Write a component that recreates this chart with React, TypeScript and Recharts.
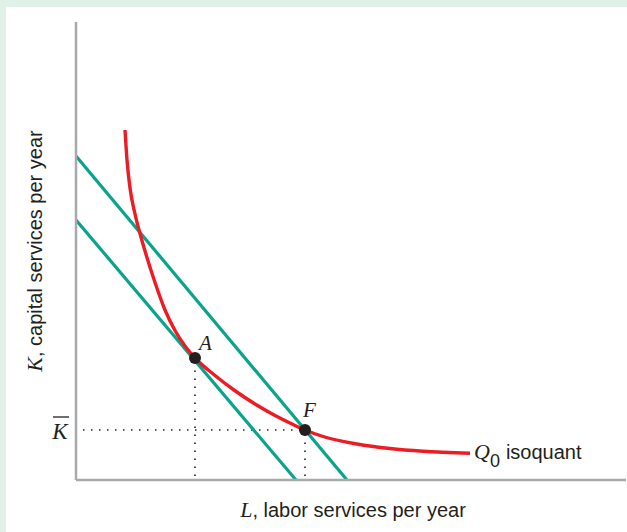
import { LineChart, Line, XAxis, YAxis, ReferenceLine, ReferenceDot } from "recharts";

// Q0 isoquant (L = labour, K = capital)
const isoquantL = [9.8, 10.2, 10.8, 11.8, 12.8, 13.8, 15.8, 17.8, 19.8, 21.8, 23.8, 27.8, 31.8, 35.8, 39.8, 43.2, 45.8, 49.4, 56.2, 62.8, 69.4, 78.8];
const isoquantK = [70, 64, 58.4, 53.2, 49.3, 45.8, 39.5, 34.0, 29.9, 26.8, 24.4, 20.9, 17.85, 15.2, 12.9, 11.2, 10.0, 8.7, 7.2, 6.3, 5.75, 5.35];

// isocost lines
const innerCostL = [0, 44];
const innerCostK = [52, 0];
const outerCostL = [0, 54.2];
const outerCostK = [64.8, 0];

// labelled points
const pointNames = ["A", "F"];
const pointL = [23.8, 45.8];
const pointK = [24.4, 10];
const kBar = 10;

const RED = "#ec1c24";
const GREEN = "#0aa38b";
const INK = "#231f20";
const AXIS = "#a7a9ac";
const SERIF = "'Liberation Serif', 'DejaVu Serif', serif";
const SANS = "'Liberation Sans', Arial, sans-serif";

const toPoints = (xs: number[], ys: number[]) => xs.map((x, i) => ({ x, y: ys[i] }));

const isoquant = toPoints(isoquantL, isoquantK);
const innerCost = toPoints(innerCostL, innerCostK);
const outerCost = toPoints(outerCostL, outerCostK);

const labelOffsets: Record<string, [number, number]> = { A: [4, -8], F: [-2, -13] };

const DotLabel = ({ viewBox, text }: any) => {
  const cx = viewBox.x + viewBox.width / 2;
  const cy = viewBox.y + viewBox.height / 2;
  const [dx, dy] = labelOffsets[text];
  return (
    <text x={cx + dx} y={cy + dy} fontFamily={SERIF} fontStyle="italic" fontSize={21} fill={INK}>
      {text}
    </text>
  );
};

const KTick = ({ x, y }: any) => (
  <g>
    <line x1={x - 23} x2={x - 7} y1={y - 13} y2={y - 13} stroke={INK} strokeWidth={1.3} />
    <text x={x - 16} y={y + 9} textAnchor="middle" fontFamily={SERIF} fontStyle="italic" fontSize={23} fill={INK}>
      K
    </text>
  </g>
);

const XLabel = ({ viewBox }: any) => (
  <text x={viewBox.x + viewBox.width / 2 + 2} y={viewBox.y + 37} textAnchor="middle" fontFamily={SANS} fontSize={20} fill={INK}>
    <tspan fontFamily={SERIF} fontStyle="italic" fontSize={22}>L</tspan>, labor services per year
  </text>
);

const YLabel = ({ viewBox }: any) => {
  const cx = 42;
  const cy = viewBox.y + viewBox.height / 2;
  return (
    <text x={cx} y={cy} transform={`rotate(-90 ${cx} ${cy})`} textAnchor="middle" fontFamily={SANS} fontSize={20} fill={INK}>
      <tspan fontFamily={SERIF} fontStyle="italic" fontSize={22}>K</tspan>, capital services per year
    </text>
  );
};

const IsoquantLabel = ({ x, y, index }: any) => {
  if (index !== isoquant.length - 1) return null;
  return (
    <text x={x + 4} y={y + 6} fontFamily={SANS} fontSize={20} fill={INK}>
      <tspan fontFamily={SERIF} fontStyle="italic" fontSize={22}>Q</tspan>
      <tspan fontSize={18} dy={8}>0</tspan>
      <tspan dy={-8} dx={6}>isoquant</tspan>
    </text>
  );
};

export default function App() {
  return (
    <div style={{ position: "fixed", left: 0, top: 0, width: 627, height: 532, background: "#e0f1e8" }}>
      <div style={{ position: "absolute", left: 6, top: 7, right: 0, bottom: 0, background: "#fff" }} />
      <div style={{ position: "absolute", left: 0, top: 0 }}>
        <LineChart width={627} height={532} margin={{ top: 22, right: 1, bottom: 0, left: 0 }}>
          <XAxis
            type="number"
            dataKey="x"
            domain={[0, 110]}
            allowDataOverflow
            tick={false}
            tickLine={false}
            height={52}
            axisLine={{ stroke: AXIS, strokeWidth: 2.5 }}
            label={<XLabel />}
          />
          <YAxis
            type="number"
            dataKey="y"
            domain={[0, 91.6]}
            allowDataOverflow
            ticks={[kBar]}
            tick={<KTick />}
            tickLine={false}
            tickSize={0}
            tickMargin={0}
            width={76}
            axisLine={{ stroke: AXIS, strokeWidth: 2.5 }}
            label={<YLabel />}
          />
          <ReferenceLine
            segment={[{ x: pointL[0], y: 0.8 }, { x: pointL[0], y: pointK[0] }]}
            stroke={INK}
            strokeWidth={1.6}
            strokeDasharray="1.5 6.5"
          />
          <ReferenceLine
            segment={[{ x: pointL[1], y: 0.8 }, { x: pointL[1], y: pointK[1] }]}
            stroke={INK}
            strokeWidth={1.6}
            strokeDasharray="1.5 6.5"
          />
          <ReferenceLine
            segment={[{ x: 1.4, y: kBar }, { x: pointL[1], y: kBar }]}
            stroke={INK}
            strokeWidth={1.6}
            strokeDasharray="1.5 6.5"
          />
          <Line data={innerCost} dataKey="y" type="linear" stroke={GREEN} strokeWidth={3.2} dot={false} isAnimationActive={false} />
          <Line data={outerCost} dataKey="y" type="linear" stroke={GREEN} strokeWidth={3.2} dot={false} isAnimationActive={false} />
          <Line
            data={isoquant}
            dataKey="y"
            type="monotone"
            stroke={RED}
            strokeWidth={3.4}
            dot={false}
            isAnimationActive={false}
            label={<IsoquantLabel />}
          />
          {pointNames.map((name, i) => (
            <ReferenceDot
              key={name}
              x={pointL[i]}
              y={pointK[i]}
              r={6}
              fill={INK}
              stroke="none"
              label={<DotLabel text={name} />}
            />
          ))}
        </LineChart>
      </div>
    </div>
  );
}
